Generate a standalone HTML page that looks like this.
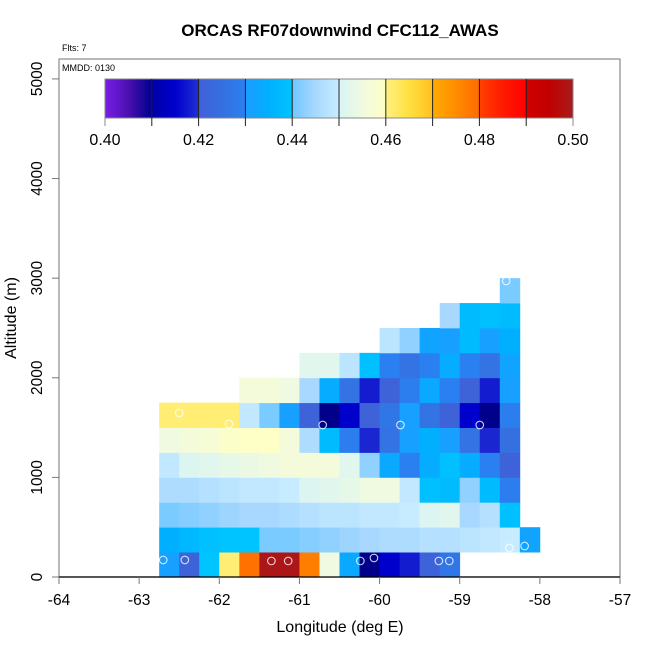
<!DOCTYPE html>
<html><head><meta charset="utf-8">
<style>
html,body{margin:0;padding:0;background:#fff;}
svg{display:block;font-family:"Liberation Sans",Arial,sans-serif;}
</style></head>
<body>
<svg id="chart" width="650" height="650" viewBox="0 0 650 650" xmlns="http://www.w3.org/2000/svg">
<text x="340" y="36" text-anchor="middle" font-size="17" font-weight="bold">ORCAS RF07downwind CFC112_AWAS</text>
<text x="62" y="51" font-size="9">Flts: 7</text>
<rect x="59" y="59" width="561" height="518" fill="none" stroke="#888" stroke-width="1.2"/>
<text x="62" y="71" font-size="9">MMDD: 0130</text>
<g id="cells"></g>
<g id="points"></g>
<g id="axes"></g>
<g id="cbar"></g>
<text x="340" y="632" text-anchor="middle" font-size="16">Longitude (deg E)</text>
<text transform="translate(16,318) rotate(-90)" text-anchor="middle" font-size="16">Altitude (m)</text>
</svg>
<script>
// ---- data ----
const lonStart = -62.75;
const lonStep = 0.25;
const altStep = 250;
// rows bottom (0-250 m) to top; null = no data
const row0 = [0.431,0.421,0.440,0.461,0.479,0.499,0.499,0.477,0.455,0.433,0.410,0.415,0.418,0.421,0.427,null,null,null,null];
const row1 = [0.435,0.437,0.439,0.440,0.440,0.441,0.441,0.442,0.443,0.444,0.445,0.446,0.446,0.447,0.447,0.448,0.449,0.450,0.432];
const row2 = [0.441,0.442,0.443,0.444,0.445,0.445,0.446,0.447,0.448,0.448,0.449,0.449,0.450,0.451,0.452,0.445,0.447,0.439,null];
const row3 = [0.446,0.446,0.447,0.448,0.449,0.449,0.450,0.451,0.452,0.453,0.455,0.455,0.449,0.439,0.438,0.443,0.438,0.429,null];
const row4 = [0.449,0.451,0.452,0.453,0.454,0.455,0.456,0.456,0.456,0.452,0.443,0.433,0.430,0.434,0.439,0.434,0.430,0.421,null];
const row5 = [0.455,0.456,0.457,0.459,0.4595,0.4595,0.456,0.446,0.438,0.429,0.419,0.426,0.431,0.435,0.431,0.426,0.419,0.425,null];
const row6 = [0.461,0.461,0.461,0.461,0.449,0.441,0.431,0.421,0.410,0.415,0.421,0.427,0.431,0.426,0.421,0.415,0.410,0.429,null];
const row7 = [null,null,null,null,0.456,0.456,0.455,0.445,0.434,0.426,0.418,0.421,0.429,0.433,0.430,0.421,0.418,0.431,null];
const row8 = [null,null,null,null,null,null,null,0.452,0.452,0.448,0.439,0.430,0.426,0.430,0.434,0.430,0.426,0.432,null];
const row9 = [null,null,null,null,null,null,null,null,null,null,null,0.448,0.443,0.432,0.431,0.438,0.431,0.435,null];
const row10 = [null,null,null,null,null,null,null,null,null,null,null,null,null,null,0.445,0.438,0.439,0.438,null];
const row11 = [null,null,null,null,null,null,null,null,null,null,null,null,null,null,null,null,null,0.441,null];
const pointLon = [-62.70,-62.43,-61.35,-61.14,-60.24,-60.07,-59.26,-59.13,-58.38,-58.19,-62.50,-61.88,-60.71,-59.74,-58.75,-58.42];
const pointAlt = [171,171,161,161,161,191,161,161,291,311,1647,1536,1526,1526,1526,2972];
const xTicks = [-64,-63,-62,-61,-60,-59,-58,-57];
const yTicks = [0,1000,2000,3000,4000,5000];
const cbTicks = [0.40,0.42,0.44,0.46,0.48,0.50];
const cbStopVals = [0.400,0.405,0.410,0.4101,0.415,0.420,0.4201,0.425,0.430,0.4301,0.435,0.440,0.4401,0.445,0.450,0.4501,0.455,0.460,0.4601,0.465,0.470,0.4701,0.475,0.480,0.4801,0.485,0.490,0.4901,0.495,0.500];
const cbStopCols = ["#7a1ee6","#4a10b0","#00008b","#0000a8","#0000cd","#2030d0","#4060d8","#3570e0","#2a80f0","#1c9cff","#00b0ff","#00c4ff","#70c8ff","#a8d8ff","#c8ecff","#d8f4f4","#f0fae0","#ffffc4","#fff080","#ffe040","#ffc020","#ffaa00","#ff8c00","#ff6a00","#ff4000","#ff1a00","#ff0000","#d00000","#c00000","#a81c1c"];
const rows = [row0,row1,row2,row3,row4,row5,row6,row7,row8,row9,row10,row11];

// ---- scales ----
const X0=59, X1=620, Y0=577, Y1=59;
const xs = v => X0 + (v - (-64)) / 7 * (X1 - X0);
const ys = v => Y0 - v / 5200 * (Y0 - Y1);
const CB0=105, CB1=573, CBT=79, CBB=118;
const cbs = v => CB0 + (v - 0.40) / 0.10 * (CB1 - CB0);
const NS="http://www.w3.org/2000/svg";
function mk(tag, attrs, parent){const e=document.createElementNS(NS,tag);for(const k in attrs)e.setAttribute(k,attrs[k]);parent.appendChild(e);return e;}
function hex(c){return [1,3,5].map(i=>parseInt(c.substr(i,2),16));}
function color(v){
  if(v<=cbStopVals[0])return cbStopCols[0];
  for(let i=1;i<cbStopVals.length;i++){
    if(v<=cbStopVals[i]){
      const t=(v-cbStopVals[i-1])/(cbStopVals[i]-cbStopVals[i-1]);
      const a=hex(cbStopCols[i-1]),b=hex(cbStopCols[i]);
      return "rgb("+a.map((x,j)=>Math.round(x+(b[j]-x)*t)).join(",")+")";
    }
  }
  return cbStopCols[cbStopCols.length-1];
}

// ---- heatmap ----
const cells=document.getElementById('cells');
rows.forEach((row,r)=>{
  row.forEach((v,k)=>{
    if(v===null)return;
    const xa=xs(lonStart+k*lonStep), xb=xs(lonStart+(k+1)*lonStep);
    const ya=ys((r+1)*altStep), yb=ys(r*altStep);
    const el=mk('rect',{x:xa,y:ya,width:xb-xa+0.4,height:yb-ya+0.4,fill:color(v)},cells);
    
    
  });
});

// ---- points ----
const pts=document.getElementById('points');
pointLon.forEach((lo,i)=>{
  const el=mk('circle',{cx:xs(lo),cy:ys(pointAlt[i]),r:3.8,fill:'none',stroke:'#fff','stroke-opacity':0.8,'stroke-width':1.1},pts);
  
  
});

// ---- axes ----
const ax=document.getElementById('axes');
const xl=mk('line',{x1:X0,y1:Y0,x2:X1,y2:Y0,stroke:'#000','stroke-width':1.2},ax);


xTicks.forEach(t=>{
  const tk=mk('line',{x1:xs(t),y1:Y0,x2:xs(t),y2:Y0+7,stroke:'#777','stroke-width':1},ax);
  
  
  const tx=mk('text',{x:xs(t),y:605,'text-anchor':'middle','font-size':15.5},ax);
  tx.textContent=String(t);
  
  
});
yTicks.forEach(t=>{
  const tk=mk('line',{x1:X0-7,y1:ys(t),x2:X0,y2:ys(t),stroke:'#777','stroke-width':1},ax);
  
  
  const tx=mk('text',{transform:'translate(42,'+ys(t)+') rotate(-90)','text-anchor':'middle','font-size':15.5},ax);
  tx.textContent=String(t);
  
  
});

// ---- colorbar ----
const cb=document.getElementById('cbar');
const defs=mk('defs',{},cb);
const grad=mk('linearGradient',{id:'cbgrad',x1:0,y1:0,x2:1,y2:0},defs);
cbStopVals.forEach((v,i)=>{mk('stop',{offset:((v-0.40)/0.10),'stop-color':cbStopCols[i]},grad);});
const bar=mk('rect',{x:CB0,y:CBT,width:CB1-CB0,height:CBB-CBT,fill:'url(#cbgrad)',stroke:'#888','stroke-width':1},cb);


for(let i=1;i<10;i++){
  const v=0.40+i*0.01;
  const l=mk('line',{x1:cbs(v),y1:CBT,x2:cbs(v),y2:CBB+8,stroke:'#222','stroke-width':1},cb);
  
  
}
[0.40,0.50].forEach(v=>{
  const l=mk('line',{x1:cbs(v),y1:CBB,x2:cbs(v),y2:CBB+8,stroke:'#888','stroke-width':1},cb);
  
  
});
cbTicks.forEach(v=>{
  const tx=mk('text',{x:cbs(v),y:145,'text-anchor':'middle','font-size':16},cb);
  tx.textContent=v.toFixed(2);
  
  
});
</script>
</body></html>
